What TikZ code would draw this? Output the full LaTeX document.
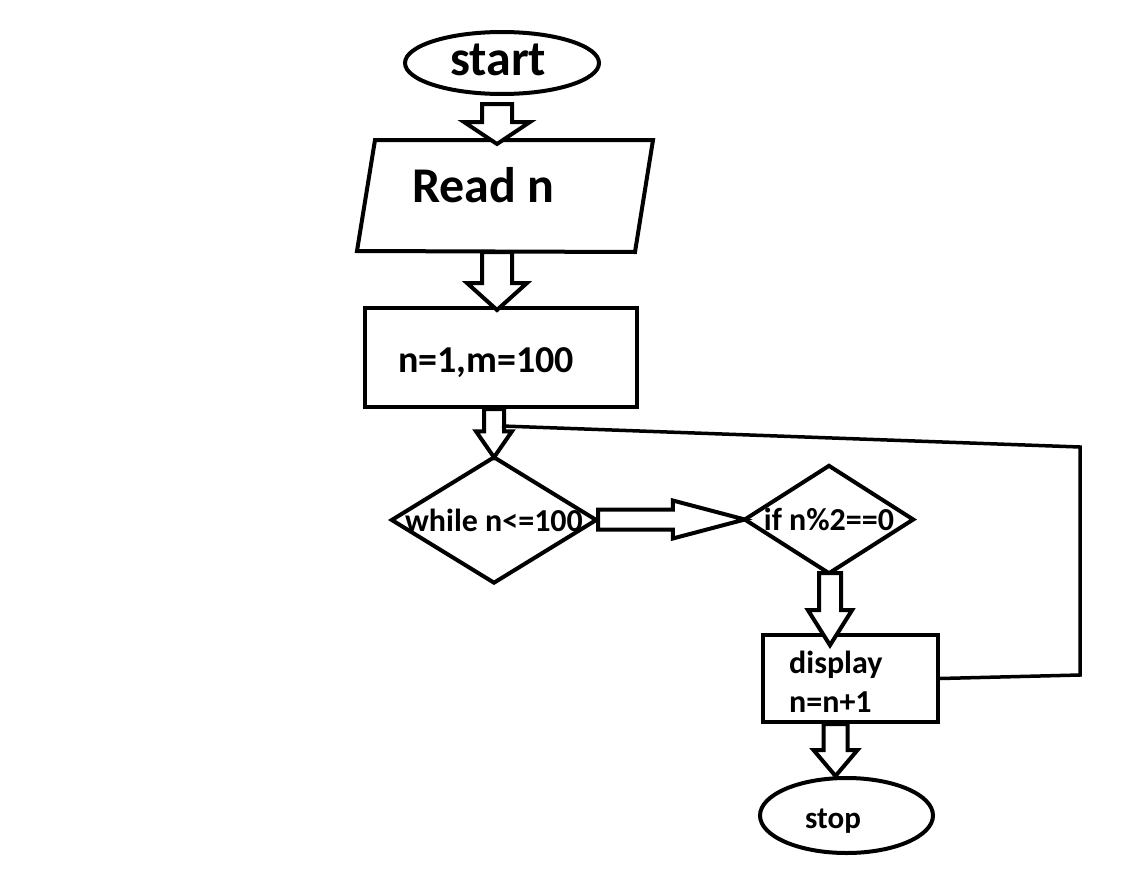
\documentclass[tikz,border=0pt]{standalone}
\usepackage{fontspec}
\setmainfont{Carlito}
\usetikzlibrary{calc,shapes.geometric}
\tikzset{
  shp/.style={draw=black, line width=4pt},
  blk/.style={draw=black, line width=4pt, fill=white, line join=miter},
  lbl/.style={anchor=base west, inner sep=0pt},
  txt/.style={font=\bfseries\fontsize{32}{38}\selectfont},
  loopline/.style={draw=black, line width=3.5pt, line join=miter},
}
% vertical block arrow: #1 source point (top y), #2 tip, #3 shaft half width, #4 head half width, #5 head length
\newcommand\vblock[5]{%
  \draw[blk] let \p1=(#1), \p2=(#2) in
   (\x2-#3pt,\y1) -- (\x2-#3pt,\y2+#5pt) -- (\x2-#4pt,\y2+#5pt) -- (\x2,\y2)
   -- (\x2+#4pt,\y2+#5pt) -- (\x2+#3pt,\y2+#5pt) -- (\x2+#3pt,\y1) -- cycle;}
\begin{document}
\begin{tikzpicture}[x=1pt,y=-1pt]
\fill[white] (0,0) rectangle (1146,894);
\useasboundingbox (0,0) rectangle (1146,894);

% start
\node[shp, ellipse, minimum width=194pt, minimum height=62pt, inner sep=0pt] (start) at (502,63) {};
\node[lbl, font=\bfseries\fontsize{50}{60}\selectfont] (startT) at (450,75) {start};

% read n (parallelogram)
\coordinate (r1) at (375,140);
\coordinate (r2) at (653,140);
\coordinate (r3) at (635,252);
\coordinate (r4) at (357,251);
\draw[shp, line join=miter] (r1) -- (r2) -- (r3) -- (r4) -- cycle;
\node[lbl, font=\bfseries\fontsize{50}{60}\selectfont] (read) at (412,202) {Read n};

% init box
\node[shp, rectangle, minimum width=272pt, minimum height=99pt, inner sep=0pt] (init) at (501,357.5) {};
\node[lbl, font=\bfseries\fontsize{38}{46}\selectfont] (initT) at (398,372) {n=1,m=100};

% while diamond
\node[rectangle, minimum width=204pt, minimum height=125pt, inner sep=0pt, txt] (while) at (494,520) {while n<=100};
\draw[shp, line join=miter] (while.north) -- (while.east) -- (while.south) -- (while.west) -- cycle;

% if diamond
\node[rectangle, minimum width=168pt, minimum height=107pt, inner sep=0pt, txt] (if) at (829,519.5) {if n\%2==0};
\draw[shp, line join=miter] (if.north) -- (if.east) -- (if.south) -- (if.west) -- cycle;

% display box
\node[shp, rectangle, minimum width=175pt, minimum height=87pt, inner sep=0pt] (disp) at (850.5,678.5) {};
\node[lbl, txt] (dispT) at (789,673) {display};
\node[lbl, txt] (incT) at (789,712) {n=n+1};

% stop
\node[shp, ellipse, minimum width=173pt, minimum height=75pt, inner sep=0pt] (stop) at (846.5,815.5) {};
\node[lbl, font=\bfseries\fontsize{31}{37}\selectfont] (stopT) at (805,828) {stop};

% block arrows
\coordinate (a1s) at (497,104);  \coordinate (a1t) at (497,144);
\vblock{a1s}{a1t}{15}{33}{22}
\coordinate (a2t) at (497,310);
\vblock{r3|-r3}{a2t}{15}{30}{27}
\coordinate (a3t) at (while.north);
\vblock{init.south}{a3t}{10}{18}{26}
\coordinate (a4t) at ($(if.south)+(1,72)$);
\vblock{if.south}{a4t}{11}{22}{35}
\coordinate (a5t) at ($(stop.north)+(-11,0)$);
\vblock{disp.south}{a5t}{12}{22}{26}

% horizontal block arrow while -> if
\draw[blk] let \p1=(while.east), \p2=(if.west) in
  (\x1+2pt,\y2+10pt) -- (\x2-72pt,\y2+10pt) -- (\x2-72pt,\y2+19pt) -- (\x2,\y2)
  -- (\x2-72pt,\y2-19pt) -- (\x2-72pt,\y2-10pt) -- (\x1+2pt,\y2-10pt) -- cycle;

% loop back line
\coordinate (loopA) at (1080,675);
\coordinate (loopB) at (1080,447);
\coordinate (loopend) at (502,426);
\draw[loopline] (disp.east) -- (loopA) -- (loopB) -- (loopend);
\end{tikzpicture}
\end{document}
